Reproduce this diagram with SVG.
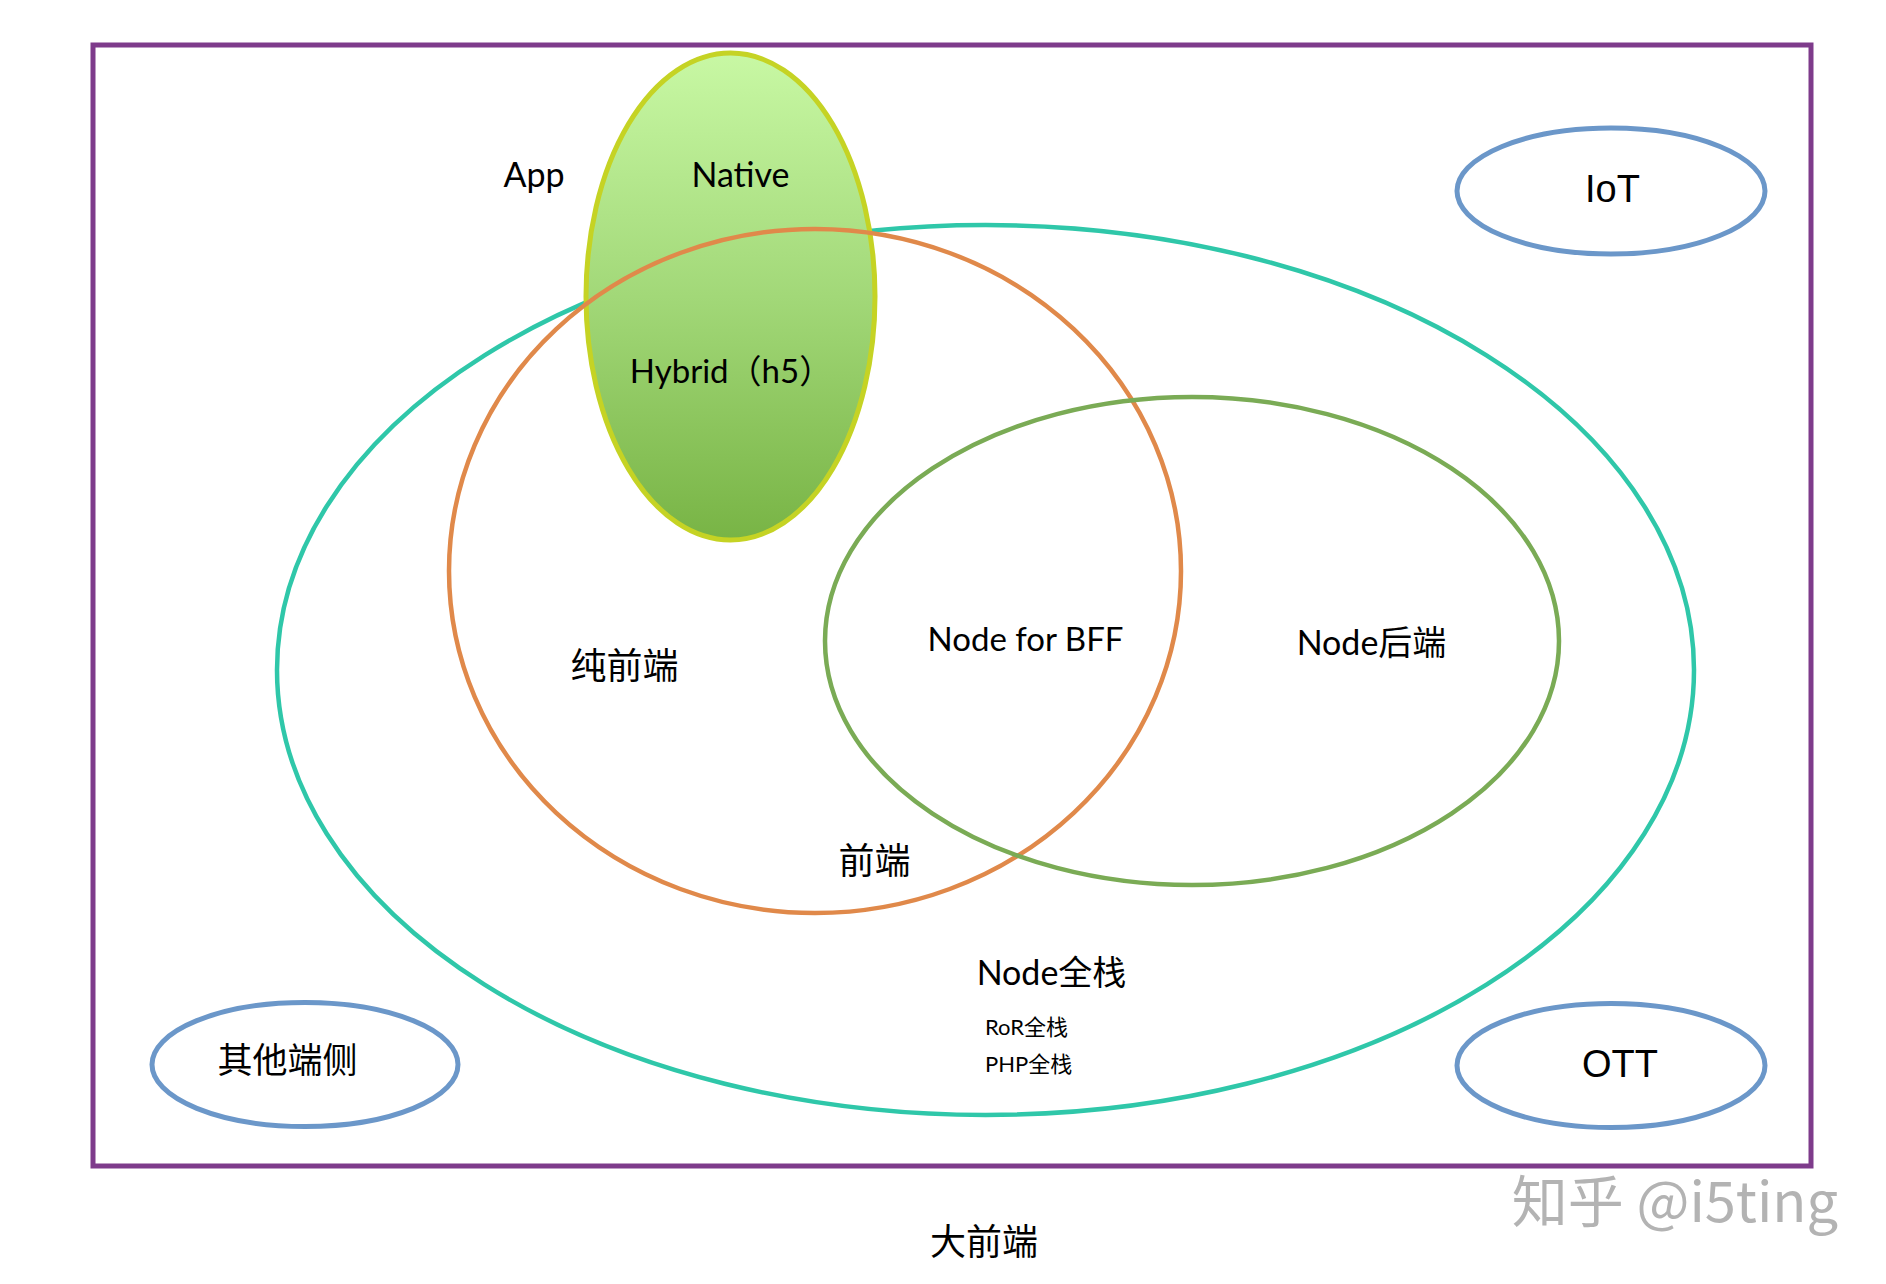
<svg xmlns="http://www.w3.org/2000/svg" width="1886" height="1284" viewBox="0 0 1886 1284">
<defs>
<linearGradient id="appGrad" x1="0" y1="0" x2="0" y2="1">
<stop offset="0" stop-color="#c8f8a4"/>
<stop offset="0.5" stop-color="#a2d878"/>
<stop offset="1" stop-color="#78b445"/>
</linearGradient>
<style>
.lbl{font-family:Lato,"Noto Sans CJK SC",sans-serif;font-size:34px;fill:#000;text-anchor:middle}
.cjk{font-family:"Noto Sans CJK SC",sans-serif;font-size:36px;fill:#000;text-anchor:middle}
.arial{font-family:"Liberation Sans",Arial,sans-serif;font-size:38px;fill:#000;text-anchor:middle}
.small{font-family:Lato,"Noto Sans CJK SC",sans-serif;font-size:22px;fill:#000}
.blue{fill:#fff;stroke:#6b97c9;stroke-width:5}
.ring{fill:none;stroke-width:4.5}
</style>
</defs>
<rect width="1886" height="1284" fill="#fff"/>
<g id="bigfront">
<rect x="93" y="45" width="1718" height="1121" fill="none" stroke="#7e3b8b" stroke-width="5"/>
<text class="cjk" x="984" y="1255">大前端</text>
</g>
<g id="fullstack">
<ellipse class="ring" cx="985.5" cy="670" rx="708.5" ry="445" stroke="#2fc7a9"/>
<text class="lbl" x="1051.5" y="985">Node全栈</text>
<text class="small" x="985" y="1035">RoR全栈</text>
<text class="small" x="985" y="1072">PHP全栈</text>
</g>
<g id="app">
<ellipse cx="730.5" cy="296.5" rx="144.5" ry="243.5" fill="url(#appGrad)" stroke="#c5d324" stroke-width="5"/>
<text class="lbl" x="534" y="187">App</text>
<text class="lbl" x="740.5" y="187">Native</text>
<text class="lbl" x="731" y="383" style="font-size:33px">Hybrid（h5）</text>
</g>
<g id="frontend">
<ellipse class="ring" cx="815" cy="571" rx="366" ry="342" stroke="#e0894a"/>
<text class="cjk" x="624.5" y="679">纯前端</text>
<text class="cjk" x="874.5" y="874">前端</text>
</g>
<g id="nodebackend">
<ellipse class="ring" cx="1192" cy="641" rx="367" ry="244" stroke="#7aab55"/>
<text class="lbl" x="1025.5" y="651" style="font-size:33px">Node for BFF</text>
<text class="lbl" x="1371.5" y="655">Node后端</text>
</g>
<g id="iot">
<ellipse class="blue" cx="1611" cy="191" rx="154" ry="63"/>
<text class="arial" x="1612.5" y="202">IoT</text>
</g>
<g id="ott">
<ellipse class="blue" cx="1611" cy="1065.5" rx="154" ry="62"/>
<text class="arial" x="1620" y="1077">OTT</text>
</g>
<g id="other">
<ellipse class="blue" cx="305" cy="1064.5" rx="153" ry="62"/>
<text class="cjk" x="287.5" y="1073" style="font-size:35px">其他端侧</text>
</g>
<g id="connectors"></g>
<text x="1675" y="1222" style="font-family:'Noto Sans CJK SC',sans-serif;font-size:56px;fill:#b3b3b3;text-anchor:middle">知乎 @i5ting</text>
</svg>
